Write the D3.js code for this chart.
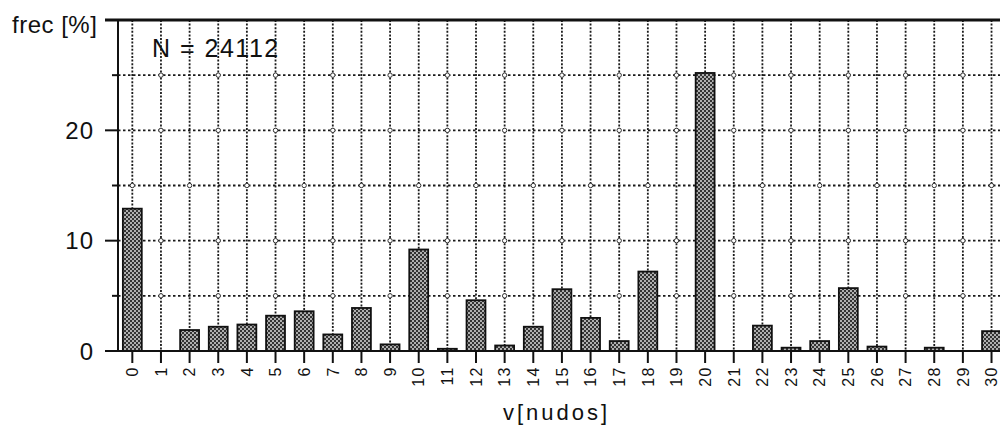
<!DOCTYPE html>
<html>
<head>
<meta charset="utf-8">
<script src="https://cdn.jsdelivr.net/npm/d3@7"></script>
<style>
  html, body { margin: 0; padding: 0; background: #fff; }
  svg { display: block; font-family: "Liberation Sans", Arial, sans-serif; }
</style>
</head>
<body>
<svg id="chart" width="1000" height="428"></svg>
<script>
// ---- data ----
const categories = d3.range(0, 31).map(String);
const frecValues = [12.9, 0, 1.9, 2.2, 2.4, 3.2, 3.6, 1.5, 3.9, 0.6,
                    9.2, 0.2, 4.6, 0.5, 2.2, 5.6, 3.0, 0.9, 7.2, 0,
                    25.2, 0, 2.3, 0.3, 0.9, 5.7, 0.4, 0, 0.3, 0, 1.8];
const yMajorTicks = [0, 10, 20];
const yMinorTicks = [5, 15, 25];
const yGridValues = [5, 10, 15, 20, 25];
const yLabel = "frec [%]";
const xLabel = "v[nudos]";
const noteText = "N = 24112";

(function () {
// ---- layout ----
const svg = d3.select("#chart");
const plotLeft = 118, plotBottom = 351, plotTop = 20;
const step = 28.64;
const x = d3.scaleBand().domain(categories).range([plotLeft, plotLeft + step * categories.length]).padding(0);
const y = d3.scaleLinear().domain([0, 30]).range([plotBottom, plotTop]);
const barW = x.bandwidth() * 0.66;
const cx = c => x(c) + x.bandwidth() / 2;

// pattern for bars
const defs = svg.append("defs");
const pat = defs.append("pattern").attr("id", "hatch").attr("patternUnits", "userSpaceOnUse")
  .attr("width", 4).attr("height", 4);
pat.append("rect").attr("width", 4).attr("height", 4).attr("fill", "#333");
pat.append("circle").attr("cx", 1).attr("cy", 1).attr("r", 0.95).attr("fill", "#e4e4e4");
pat.append("circle").attr("cx", 3).attr("cy", 3).attr("r", 0.95).attr("fill", "#e4e4e4");

// grid
const grid = svg.append("g").attr("stroke", "#1a1a1a");
grid.selectAll("line.v").data(categories).join("line").attr("class", "v")
  .attr("stroke-width", 1.8).attr("stroke-dasharray", "2,1.6")
  .attr("x1", d => cx(d)).attr("x2", d => cx(d)).attr("y1", y(30)).attr("y2", y(0));
grid.selectAll("line.h").data(yGridValues).join("line").attr("class", "h")
  .attr("stroke-width", 1.8).attr("stroke-dasharray", "2.5,2.5")
  .attr("x1", plotLeft).attr("x2", 1000).attr("y1", d => y(d)).attr("y2", d => y(d));

// grid markers
const markers = [];
yGridValues.forEach(v => {
  categories.forEach((c, i) => {
    const even = (v === 15);
    if ((i % 2 === 0) === even) markers.push({c, v});
  });
});
svg.append("g").selectAll("circle").data(markers).join("circle")
  .attr("cx", d => cx(d.c)).attr("cy", d => y(d.v)).attr("r", 2.2)
  .attr("fill", "#fff").attr("stroke", "#333").attr("stroke-width", 1);

// bars
svg.append("g").selectAll("rect").data(categories.map((c, i) => ({c, v: frecValues[i]})).filter(d => d.v > 0))
  .join("rect")
  .attr("x", d => cx(d.c) - barW / 2)
  .attr("width", barW)
  .attr("y", d => y(d.v))
  .attr("height", d => y(0) - y(d.v))
  .attr("fill", "url(#hatch)")
  .attr("stroke", "#111").attr("stroke-width", 1.8);

// axes lines
svg.append("line").attr("x1", 105).attr("x2", 1000).attr("y1", y(30)).attr("y2", y(30))
  .attr("stroke", "#111").attr("stroke-width", 3);
svg.append("line").attr("x1", plotLeft).attr("x2", plotLeft).attr("y1", y(30)).attr("y2", y(0))
  .attr("stroke", "#111").attr("stroke-width", 2);
svg.append("line").attr("x1", 107).attr("x2", 1000).attr("y1", y(0)).attr("y2", y(0))
  .attr("stroke", "#111").attr("stroke-width", 2);

// y ticks
svg.append("g").selectAll("line").data(yMajorTicks).join("line")
  .attr("x1", 105).attr("x2", plotLeft).attr("y1", d => y(d)).attr("y2", d => y(d))
  .attr("stroke", "#111").attr("stroke-width", 2);
svg.append("g").selectAll("line").data(yMinorTicks).join("line")
  .attr("x1", 112).attr("x2", plotLeft).attr("y1", d => y(d)).attr("y2", d => y(d))
  .attr("stroke", "#111").attr("stroke-width", 2);
svg.append("g").selectAll("text").data(yMajorTicks).join("text")
  .attr("x", 94).attr("y", d => y(d)).attr("dy", "0.36em")
  .attr("text-anchor", "end").attr("font-size", 24).attr("fill", "#111")
  .attr("letter-spacing", 1)
  .text(d => d);

// x ticks
svg.append("g").selectAll("line").data(categories).join("line")
  .attr("x1", d => cx(d)).attr("x2", d => cx(d)).attr("y1", y(0)).attr("y2", y(0) + 12)
  .attr("stroke", "#111").attr("stroke-width", 2);
svg.append("g").selectAll("text").data(categories).join("text")
  .attr("transform", d => `translate(${cx(d)},${y(0) + 15}) rotate(-90)`)
  .attr("dy", "0.36em").attr("text-anchor", "end")
  .attr("font-size", 16).attr("letter-spacing", 1.5).attr("fill", "#111")
  .text(d => d);

// titles
svg.append("text").attr("x", 12).attr("y", 33).attr("font-size", 24).attr("letter-spacing", 0.5)
  .attr("fill", "#111").text(yLabel);
svg.append("text").attr("x", 503).attr("y", 420).attr("font-size", 22).attr("letter-spacing", 3)
  .attr("fill", "#111").text(xLabel);
svg.append("text").attr("x", 152).attr("y", 57).attr("font-size", 25).attr("letter-spacing", 1.5)
  .attr("fill", "#111").text(noteText);
})();
</script>
</body>
</html>
